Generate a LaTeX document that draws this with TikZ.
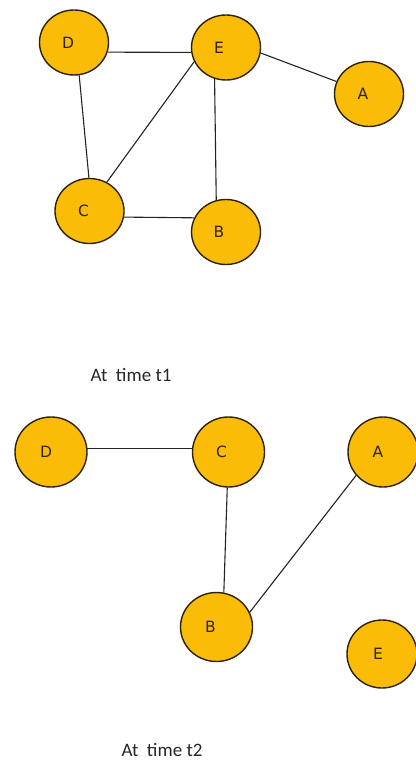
\documentclass[tikz,border=0pt]{standalone}
\usepackage{fontspec}
\setmainfont{DejaVu Sans}
\newfontfamily\capfont{Carlito}
\usetikzlibrary{shapes.geometric}
\definecolor{nodefill}{RGB}{250,188,6}
\definecolor{edgecol}{RGB}{35,35,35}
\definecolor{rimcol}{RGB}{45,35,15}
\tikzset{
  vert/.style={ellipse, draw=rimcol, line width=1.4pt, fill=nodefill, inner sep=0pt,
    minimum width=69pt, minimum height=65pt},
  lab/.style={font=\fontsize{15.5}{15.5}\selectfont, text=rimcol},
  edge/.style={draw=edgecol, line width=1.1pt},
  caption/.style={font=\capfont\fontsize{19}{19}\selectfont, text=black!85, anchor=west}
}
\begin{document}
\begin{tikzpicture}[x=1pt,y=-1pt]
\useasboundingbox (0,0) rectangle (415,767);
% time t1
\node[vert, label={[lab,xshift=-6pt]center:D}] (D1) at (74,42.5) {};
\node[vert, label={[lab,xshift=-7pt]center:E}] (E1) at (226,47.5) {};
\node[vert, label={[lab,xshift=-6pt]center:A}] (A1) at (369,94) {};
\node[vert, label={[lab,xshift=-6pt]center:C}] (C1) at (89.5,211) {};
\node[vert, label={[lab,xshift=-7pt]center:B}] (B1) at (226,232) {};
\draw[edge] (D1.-16) -- (E1.188);
\draw[edge] (D1.-81) -- (C1.91);
\draw[edge] (E1.204) -- (C1.59);
\draw[edge] (E1.250) -- (B1.107);
\draw[edge] (E1.-9) -- (A1.159);
\draw[edge] (C1.-10) -- (B1.156);
\node[caption] (T1) at (87,375) {At\ \ time t1};
% time t2
\node[vert, minimum width=72pt, minimum height=70pt, label={[lab,xshift=-5pt]center:D}] (D2) at (51,452) {};
\node[vert, minimum width=72pt, minimum height=70pt, label={[lab,xshift=-7pt]center:C}] (C2) at (228.5,452) {};
\node[vert, minimum width=70pt, minimum height=70pt, label={[lab,xshift=-5pt]center:A}] (A2) at (383,452) {};
\node[vert, minimum width=72pt, minimum height=69pt, label={[lab,xshift=-6pt]center:B}] (B2) at (216.5,627) {};
\node[vert, minimum width=70pt, minimum height=68pt, label={[lab,xshift=-4pt]center:E}] (E2) at (382,654) {};
\draw[edge] (D2.6) -- (C2.174);
\draw[edge] (C2.-92) -- (B2.78);
\draw[edge] (A2.221) -- (B2.24);
\node[caption] (T2) at (118,750) {At\ \ time t2};
\end{tikzpicture}
\end{document}
